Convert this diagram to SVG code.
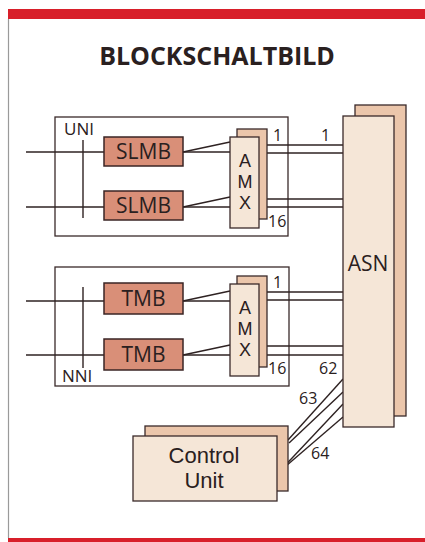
<svg xmlns="http://www.w3.org/2000/svg" width="425" height="542" viewBox="0 0 425 542">
<defs>
<style>
text{font-family:"Open Sans","Noto Sans","Liberation Sans",sans-serif;fill:#2a2020}
.t{font-size:17px}
.n{font-size:16px}
.b{font-size:21px;text-anchor:middle}
.a{font-family:"Liberation Sans",Arial,sans-serif;font-size:18px;text-anchor:middle}
.c{font-family:"Liberation Sans",Arial,sans-serif;font-size:22px;text-anchor:middle}
.frame{fill:#fff;stroke:#3a2a2a;stroke-width:1.3}
.mod{fill:#d98f78;stroke:#3a2424;stroke-width:1.5}
.front{fill:#f5e6d7;stroke:#3a2a2a;stroke-width:1.3}
.back{fill:#ebc6ab;stroke:#3a2a2a;stroke-width:1.3}
.ln{stroke:#2e2222;stroke-width:1.4;fill:none}
</style>
</defs>
<rect width="425" height="542" fill="#fff"/>
<rect x="8" y="9" width="417" height="10" fill="#d81f2a"/>
<rect x="8" y="538" width="417" height="4" fill="#d81f2a"/>
<line x1="8.5" y1="19" x2="8.5" y2="538" stroke="#9a9a9a" stroke-width="1.2"/>
<text x="217" y="65" font-size="25" font-weight="bold" text-anchor="middle">BLOCKSCHALTBILD</text>

<g id="uni-box">
<rect class="frame" x="55" y="117" width="233" height="119"/>
<text class="t" x="64" y="135">UNI</text>
</g>
<g id="nni-box">
<rect class="frame" x="55" y="267" width="234" height="119"/>
<text class="t" x="62" y="382">NNI</text>
</g>

<g id="connectors">
<line class="ln" x1="83" y1="140" x2="83" y2="218"/>
<line class="ln" x1="83" y1="287" x2="83" y2="368"/>
<line class="ln" x1="26" y1="152" x2="104" y2="152"/>
<line class="ln" x1="26" y1="207" x2="104" y2="207"/>
<line class="ln" x1="26" y1="301" x2="104" y2="301"/>
<line class="ln" x1="26" y1="355" x2="104" y2="355"/>
<line class="ln" x1="183" y1="152" x2="230" y2="152"/>
<line class="ln" x1="183" y1="152" x2="230" y2="142"/>
<line class="ln" x1="183" y1="207" x2="230" y2="207"/>
<line class="ln" x1="183" y1="207" x2="230" y2="197"/>
<line class="ln" x1="183" y1="301" x2="230" y2="301"/>
<line class="ln" x1="183" y1="301" x2="230" y2="291"/>
<line class="ln" x1="183" y1="355" x2="230" y2="355"/>
<line class="ln" x1="183" y1="355" x2="230" y2="345"/>
<line class="ln" x1="267" y1="145" x2="343" y2="145"/>
<line class="ln" x1="259" y1="153" x2="343" y2="153"/>
<line class="ln" x1="267" y1="199" x2="343" y2="199"/>
<line class="ln" x1="259" y1="207" x2="343" y2="207"/>
<line class="ln" x1="267" y1="292" x2="343" y2="292"/>
<line class="ln" x1="259" y1="300" x2="343" y2="300"/>
<line class="ln" x1="267" y1="346" x2="343" y2="346"/>
<line class="ln" x1="259" y1="355" x2="343" y2="355"/>
<line class="ln" x1="343" y1="379" x2="288" y2="440"/>
<line class="ln" x1="343" y1="392" x2="289" y2="443"/>
<line class="ln" x1="343" y1="404" x2="277" y2="474"/>
<line class="ln" x1="343" y1="417" x2="279" y2="472"/>
<text class="n" x="273" y="141">1</text>
<text class="n" x="321" y="141">1</text>
<text class="n" x="268" y="227">16</text>
<text class="n" x="273" y="288">1</text>
<text class="n" x="268" y="374">16</text>
<text class="n" x="319" y="374">62</text>
<text class="n" x="299" y="404">63</text>
<text class="n" x="311" y="459">64</text>
</g>

<g id="slmb1"><rect class="mod" x="104" y="137" width="79" height="29"/><text class="b" x="143.5" y="159">SLMB</text></g>
<g id="slmb2"><rect class="mod" x="104" y="191" width="79" height="29"/><text class="b" x="143.5" y="213">SLMB</text></g>
<g id="tmb1"><rect class="mod" x="104" y="283" width="79" height="31"/><text class="b" x="143.5" y="306">TMB</text></g>
<g id="tmb2"><rect class="mod" x="104" y="339" width="79" height="31"/><text class="b" x="143.5" y="362">TMB</text></g>

<g id="amx1">
<rect class="back" x="237" y="129" width="30" height="90"/>
<rect class="front" x="230" y="137" width="29" height="91"/>
<text class="a" x="245" y="167">A</text><text class="a" x="245" y="188">M</text><text class="a" x="245" y="209">X</text>
</g>
<g id="amx2">
<rect class="back" x="237" y="276" width="30" height="91"/>
<rect class="front" x="230" y="284" width="29" height="92"/>
<text class="a" x="245" y="314">A</text><text class="a" x="245" y="335">M</text><text class="a" x="245" y="356">X</text>
</g>

<g id="asn">
<rect class="back" x="355" y="105" width="51" height="311"/>
<rect class="front" x="343" y="116" width="51" height="311"/>
<text class="b" x="368" y="271">ASN</text>
</g>

<g id="control-unit">
<rect class="back" x="145" y="426" width="143" height="65"/>
<rect class="front" x="133" y="436" width="144" height="65"/>
<text class="c" x="204" y="463">Control</text>
<text class="c" x="204" y="488">Unit</text>
</g>
</svg>
